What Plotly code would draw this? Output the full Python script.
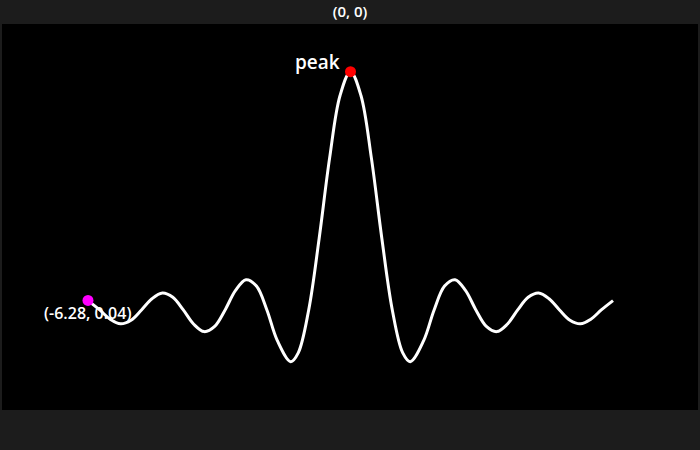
import plotly.graph_objects as go

# curve values (sinc-shaped trace)
x_vals = [-6.28, -6.0, -5.75, -5.5, -5.25, -5.0, -4.75, -4.5, -4.25, -4.0, -3.75, -3.5, -3.25,
          -3.0, -2.75, -2.5, -2.25, -2.0, -1.75, -1.43, -1.25, -1.0, -0.75, -0.5, -0.25, 0.0,
          0.25, 0.5, 0.75, 1.0, 1.25, 1.43, 1.75, 2.0, 2.25, 2.5, 2.75, 3.0, 3.25, 3.5, 3.75,
          4.0, 4.25, 4.5, 4.75, 5.0, 5.25, 5.5, 5.75, 6.0, 6.28]
y_vals = [0.039, 0.0, -0.039, -0.058, -0.043, 0.0, 0.047, 0.071, 0.053, 0.0, -0.060, -0.091, -0.069,
          0.0, 0.082, 0.127, 0.100, 0.0, -0.129, -0.217, -0.180, 0.0, 0.300, 0.637, 0.900, 1.0,
          0.900, 0.637, 0.300, 0.0, -0.180, -0.217, -0.129, 0.0, 0.100, 0.127, 0.082, 0.0, -0.069,
          -0.091, -0.060, 0.0, 0.053, 0.071, 0.047, 0.0, -0.043, -0.058, -0.039, 0.0, 0.039]

peak_x = [0.0]
peak_y = [1.0]
peak_label = "peak"

start_x = [-6.28]
start_y = [0.04]
start_label = "(-6.28, 0.04)"

title_text = "(0, 0)"

fig = go.Figure()
fig.add_trace(go.Scatter(x=x_vals, y=y_vals, mode="lines",
                         line=dict(color="white", width=3, shape="spline", smoothing=1.0),
                         hoverinfo="skip"))
fig.add_trace(go.Scatter(x=peak_x, y=peak_y, mode="markers",
                         marker=dict(color="red", size=11)))
fig.add_trace(go.Scatter(x=start_x, y=start_y, mode="markers",
                         marker=dict(color="magenta", size=11)))

fig.add_annotation(x=peak_x[0], y=peak_y[0], text=peak_label, showarrow=False,
                   xanchor="right", yanchor="middle", xshift=-9, yshift=10,
                   font=dict(color="white", size=19, family="Open Sans", weight=600))
fig.add_annotation(x=start_x[0], y=start_y[0], text=start_label, showarrow=False,
                   xanchor="center", yanchor="middle", xshift=0, yshift=-13,
                   font=dict(color="white", size=16, family="Open Sans", weight=600))

fig.update_layout(
    width=700, height=450,
    paper_bgcolor="#1c1c1c", plot_bgcolor="black",
    margin=dict(l=2, r=2, t=24, b=40),
    showlegend=False,
    title=dict(text=title_text, x=0.5, xanchor="center", y=0.973, yanchor="middle",
               font=dict(color="white", size=15, family="Open Sans", weight=600)),
    xaxis=dict(visible=False, range=[-8.337, 8.313]),
    yaxis=dict(visible=False, range=[-0.420, 1.20]),
)

fig.write_html("out.html", config={"displayModeBar": False},
               post_script="document.body.style.margin='0';")
